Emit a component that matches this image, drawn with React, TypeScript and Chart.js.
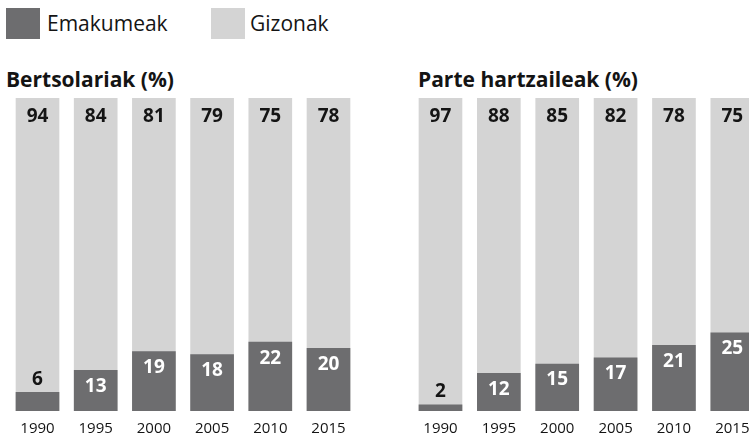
import React, { useEffect, useRef } from "react";
import { Chart, registerables } from "chart.js";

Chart.register(...registerables);

const years = ["1990", "1995", "2000", "2005", "2010", "2015"];
const bertsolariakWomen = [6, 13, 19, 18, 22, 20];
const bertsolariakMen = [94, 84, 81, 79, 75, 78];
const parteWomen = [2, 12, 15, 17, 21, 25];
const parteMen = [97, 88, 85, 82, 78, 75];
const fullTrack = [100, 100, 100, 100, 100, 100];

const DARK = "#6d6d6f";
const LIGHT = "#d4d4d4";
const TEXT = "#141414";
const FONT = "'Open Sans', 'Noto Sans', sans-serif";

function makeChart(
  canvas: HTMLCanvasElement,
  women: number[],
  men: number[],
  padLeft: number,
  padRight: number
) {
  const labelPlugin = {
    id: "valueLabels",
    afterDatasetsDraw(chart: any) {
      const ctx = chart.ctx;
      const area = chart.chartArea;
      const wMeta = chart.getDatasetMeta(0);
      ctx.save();
      ctx.font = `bold 19px ${FONT}`;
      ctx.textAlign = "center";
      ctx.textBaseline = "middle";
      wMeta.data.forEach((bar: any, i: number) => {
        const v = women[i];
        if (v < 10) {
          ctx.fillStyle = TEXT;
          ctx.fillText(String(v), bar.x, bar.y - 13);
        } else {
          ctx.fillStyle = "#ffffff";
          ctx.fillText(String(v), bar.x, bar.y + 16);
        }
        ctx.fillStyle = TEXT;
        ctx.fillText(String(men[i]), bar.x, area.top + 19);
      });
      ctx.restore();
    },
  };

  return new Chart(canvas, {
    type: "bar",
    data: {
      labels: years,
      datasets: [
        {
          label: "Emakumeak",
          data: women,
          backgroundColor: DARK,
          barThickness: 43,
          grouped: false,
          order: 0,
        },
        {
          label: "Gizonak",
          data: fullTrack,
          backgroundColor: LIGHT,
          barThickness: 43,
          grouped: false,
          order: 1,
        },
      ],
    },
    options: {
      responsive: false,
      animation: false,
      layout: { padding: { left: padLeft, right: padRight, top: 98, bottom: 0 } },
      plugins: {
        legend: { display: false },
        tooltip: { enabled: false },
        title: { display: false },
      },
      scales: {
        x: {
          grid: { display: false, drawTicks: false },
          border: { display: false },
          ticks: {
            font: { family: FONT, size: 15 },
            color: TEXT,
            padding: 9,
            maxRotation: 0,
            autoSkip: false,
          },
          afterFit: (s: any) => {
            s.height = 25;
          },
        },
        y: { display: false, min: 0, max: 100, stacked: false },
      },
    },
    plugins: [labelPlugin],
  } as any);
}

export default function App() {
  const leftRef = useRef<HTMLCanvasElement>(null);
  const rightRef = useRef<HTMLCanvasElement>(null);

  useEffect(() => {
    const c1 = makeChart(leftRef.current!, bertsolariakWomen, bertsolariakMen, 8.4, 2.4);
    const c2 = makeChart(rightRef.current!, parteWomen, parteMen, 11.3, 2.5);
    return () => {
      c1.destroy();
      c2.destroy();
    };
  }, []);

  const legendText: React.CSSProperties = {
    position: "absolute",
    top: 8,
    height: 31,
    lineHeight: "31px",
    fontFamily: FONT,
    fontSize: 21,
    color: TEXT,
    whiteSpace: "nowrap",
  };
  const titleStyle: React.CSSProperties = {
    position: "absolute",
    top: 67,
    fontFamily: FONT,
    fontWeight: "bold",
    fontSize: 21,
    lineHeight: "24px",
    color: TEXT,
    whiteSpace: "nowrap",
  };

  return (
    <div
      style={{
        position: "fixed",
        left: 0,
        top: 0,
        width: 749,
        height: 436,
        overflow: "hidden",
        background: "#ffffff",
      }}
    >
      <div style={{ position: "absolute", left: 6, top: 8, width: 34, height: 31, background: DARK }} />
      <div style={{ ...legendText, left: 47 }}>Emakumeak</div>
      <div style={{ position: "absolute", left: 211, top: 8, width: 34, height: 31, background: LIGHT }} />
      <div style={{ ...legendText, left: 250 }}>Gizonak</div>

      <div style={{ ...titleStyle, left: 6 }}>Bertsolariak (%)</div>
      <div style={{ ...titleStyle, left: 418 }}>Parte hartzaileak (%)</div>

      <canvas
        ref={leftRef}
        width={360}
        height={436}
        style={{ position: "absolute", left: 0, top: 0, width: 360, height: 436 }}
      />
      <canvas
        ref={rightRef}
        width={364}
        height={436}
        style={{ position: "absolute", left: 400, top: 0, width: 364, height: 436 }}
      />
    </div>
  );
}
